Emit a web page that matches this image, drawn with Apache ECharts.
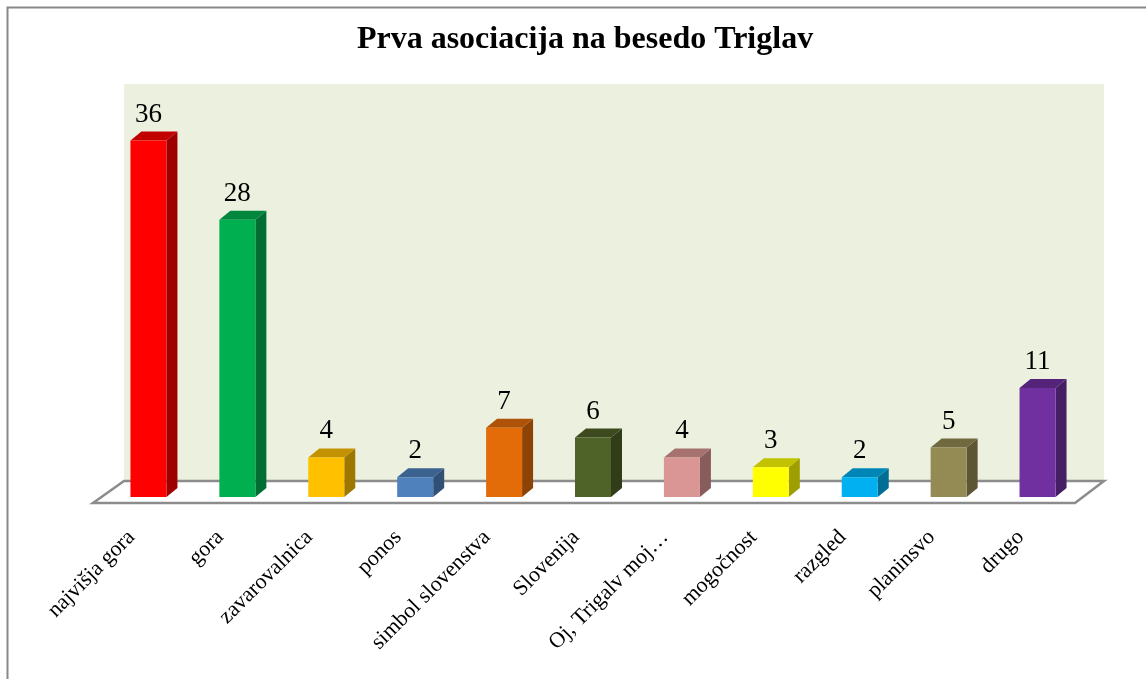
<!DOCTYPE html>
<html>
<head>
<meta charset="utf-8">
<script src="https://cdn.jsdelivr.net/npm/echarts@6/dist/echarts.min.js"></script>
<style>
  html, body { margin: 0; padding: 0; background: #fff; }
  #main { width: 1146px; height: 679px; }
</style>
</head>
<body>
<div id="main"></div>
<script>
const categories = ['najvišja gora', 'gora', 'zavarovalnica', 'ponos', 'simbol slovenstva',
  'Slovenija', 'Oj, Trigalv moj…', 'mogočnost', 'razgled', 'planinsvo', 'drugo']
const values = [36, 28, 4, 2, 7, 6, 4, 3, 2, 5, 11]
const barColors = ['#FF0000', '#00B050', '#FFC000', '#4F81BD', '#E36C09', '#4F6228',
  '#D99694', '#FFFF00', '#00B0F0', '#948A54', '#7030A0']

const chart = echarts.init(document.getElementById('main'))

// 3d look: front face + side + top
const barW = 36, depthX = 11, depthY = 9

function darken (hex, k) {
  const c = echarts.color.parse(hex)
  return 'rgb(' + Math.round(c[0] * k) + ',' + Math.round(c[1] * k) + ',' + Math.round(c[2] * k) + ')'
}

function renderBar (params, api) {
  const idx = api.value(0)
  const val = api.value(1)
  const base = api.coord([idx, 0])
  const top = api.coord([idx, val])
  const x = base[0] - barW / 2
  const y0 = base[1], y1 = top[1]
  const c = barColors[idx]
  const side = darken(c, 0.62)
  const cap = darken(c, 0.76)
  return {
    type: 'group',
    children: [
      { type: 'polygon', shape: { points: [[x + barW, y1], [x + barW + depthX, y1 - depthY], [x + barW + depthX, y0 - depthY], [x + barW, y0]] }, style: { fill: side } },
      { type: 'polygon', shape: { points: [[x, y1], [x + depthX, y1 - depthY], [x + barW + depthX, y1 - depthY], [x + barW, y1]] }, style: { fill: cap } },
      { type: 'rect', shape: { x: x, y: y1, width: barW, height: y0 - y1 }, style: { fill: c } },
      { type: 'text', x: x + barW / 2, y: y1 - 26, style: { text: String(val), fill: '#000', font: '27px "Liberation Serif"', align: 'center', verticalAlign: 'middle' } }
    ]
  }
}

const options = {
  backgroundColor: '#fff',
  animation: false,
  title: {
    text: 'Prva asociacija na besedo Triglav',
    left: 580,
    textAlign: 'center',
    top: 19,
    textStyle: { fontFamily: 'Liberation Serif', fontWeight: 'bold', fontSize: 32, color: '#000' }
  },
  graphic: [
    // outer frame (top + left)
    { type: 'polyline', z: 0, shape: { points: [[7.5, 679], [7.5, 7.5], [1146, 7.5]] }, style: { stroke: '#888', lineWidth: 2, fill: null } },
    // back wall
    { type: 'rect', z: 0, shape: { x: 124, y: 84, width: 980, height: 397 }, style: { fill: '#EBF1DE' } },
    // floor
    { type: 'polygon', z: 0, shape: { points: [[124, 481], [1104, 481], [1075, 503], [93, 503]] }, style: { fill: '#fff', stroke: '#8C8C8C', lineWidth: 2.5 } }
  ],
  grid: { left: 104, right: 64, top: 101, bottom: 182 },
  xAxis: {
    type: 'category',
    data: categories,
    axisLine: { show: false },
    axisTick: { show: false },
    axisLabel: {
      rotate: 45,
      interval: 0,
      margin: 20,
      padding: [0, 24, 0, 0],
      fontFamily: 'Liberation Serif',
      fontSize: 22,
      color: '#000'
    }
  },
  yAxis: {
    type: 'value',
    min: 0,
    max: 40,
    show: false,
    splitLine: { show: false }
  },
  series: [
    {
      type: 'custom',
      renderItem: renderBar,
      data: values.map((v, i) => [i, v]),
      encode: { x: 0, y: 1 }
    }
  ]
}

chart.setOption(options)
</script>
</body>
</html>
